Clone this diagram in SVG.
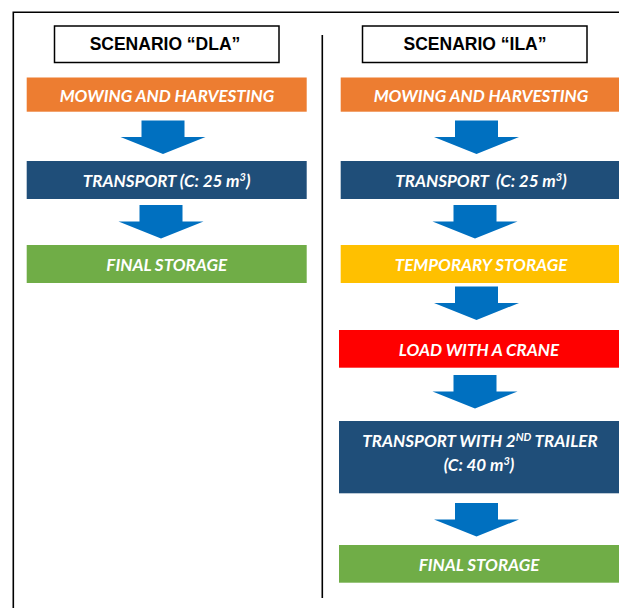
<svg xmlns="http://www.w3.org/2000/svg" width="619" height="608" viewBox="0 0 619 608">
  <style>
    .frame { fill: none; stroke: #000; stroke-width: 1.6; }
    .head-box { fill: #fff; stroke: #000; stroke-width: 1.5; }
    .head-text { font-family: "Liberation Sans", Arial, sans-serif; font-weight: bold; font-size: 17.5px; fill: #000; text-anchor: middle; }
    .step-text { font-family: Lato, "Open Sans", sans-serif; font-weight: bold; font-style: italic; font-size: 17px; fill: #fff; text-anchor: middle; }
    .sup { font-size: 11px; }
    .arrow { fill: #0070C0; }
    .orange { fill: #ED7D31; }
    .navy { fill: #1F4E79; }
    .green { fill: #70AD47; }
    .yellow { fill: #FFC000; }
    .red { fill: #FF0000; }
  </style>
  <defs>
    <!-- block arrow pointing down, origin at centre of shaft top -->
    <path id="down" d="M-21.5,0 H21.5 V16.5 H42.5 L0,33.5 L-42.5,16.5 H-21.5 Z"/>
  </defs>

  <rect width="619" height="608" fill="#fff"/>

  <!-- outer frame (open to the right and bottom) -->
  <path class="frame" d="M13.3,608 V12.3 H619"/>
  <!-- divider between the two scenarios -->
  <line x1="322.3" y1="35" x2="322.3" y2="598" stroke="#000" stroke-width="1.6"/>

  <!-- connectors -->
  <g id="connectors">
    <use href="#down" class="arrow" x="163" y="120.5"/>
    <use href="#down" class="arrow" x="161" y="205"/>
    <use href="#down" class="arrow" x="476.5" y="120.5"/>
    <use href="#down" class="arrow" x="475" y="205"/>
    <use href="#down" class="arrow" x="476.5" y="286.5"/>
    <use href="#down" class="arrow" x="475" y="375"/>
    <use href="#down" class="arrow" x="476.5" y="503"/>
  </g>

  <!-- scenario DLA -->
  <g id="dla-title">
    <rect class="head-box" x="54.5" y="26" width="224.5" height="36.5"/>
    <text class="head-text" x="165" y="49.5">SCENARIO “DLA”</text>
  </g>
  <g id="dla-mowing">
    <rect class="orange" x="26.7" y="77.5" width="280" height="34.2"/>
    <text class="step-text" x="167" y="101.7">MOWING AND HARVESTING</text>
  </g>
  <g id="dla-transport">
    <rect class="navy" x="26.7" y="161" width="280" height="38"/>
    <text class="step-text" x="166.7" y="186.5">TRANSPORT (C: 25 m<tspan class="sup" dy="-6">3</tspan><tspan dy="6">)</tspan></text>
  </g>
  <g id="dla-final">
    <rect class="green" x="26.7" y="245" width="280" height="38"/>
    <text class="step-text" x="166.7" y="270.5">FINAL STORAGE</text>
  </g>

  <!-- scenario ILA -->
  <g id="ila-title">
    <rect class="head-box" x="362.5" y="26" width="224.5" height="36.5"/>
    <text class="head-text" x="475" y="49.5">SCENARIO “ILA”</text>
  </g>
  <g id="ila-mowing">
    <rect class="orange" x="340.7" y="77.5" width="279" height="34.2"/>
    <text class="step-text" x="481" y="101.7">MOWING AND HARVESTING</text>
  </g>
  <g id="ila-transport">
    <rect class="navy" x="340.7" y="161" width="279" height="38"/>
    <text class="step-text" x="481" y="186.5" xml:space="preserve">TRANSPORT  (C: 25 m<tspan class="sup" dy="-6">3</tspan><tspan dy="6">)</tspan></text>
  </g>
  <g id="ila-temporary">
    <rect class="yellow" x="340.7" y="245" width="279" height="38"/>
    <text class="step-text" x="481" y="270.5">TEMPORARY STORAGE</text>
  </g>
  <g id="ila-crane">
    <rect class="red" x="339" y="330" width="281" height="37.7"/>
    <text class="step-text" x="479" y="355.5">LOAD WITH A CRANE</text>
  </g>
  <g id="ila-transport2">
    <rect class="navy" x="339" y="421" width="281" height="72.3"/>
    <text class="step-text" x="480" y="446.7">TRANSPORT WITH 2<tspan class="sup" dy="-6">ND</tspan><tspan dy="6"> TRAILER</tspan></text>
    <text class="step-text" x="479" y="470.5">(C: 40 m<tspan class="sup" dy="-6">3</tspan><tspan dy="6">)</tspan></text>
  </g>
  <g id="ila-final">
    <rect class="green" x="339" y="545" width="281" height="37.7"/>
    <text class="step-text" x="479" y="570.5">FINAL STORAGE</text>
  </g>
</svg>
